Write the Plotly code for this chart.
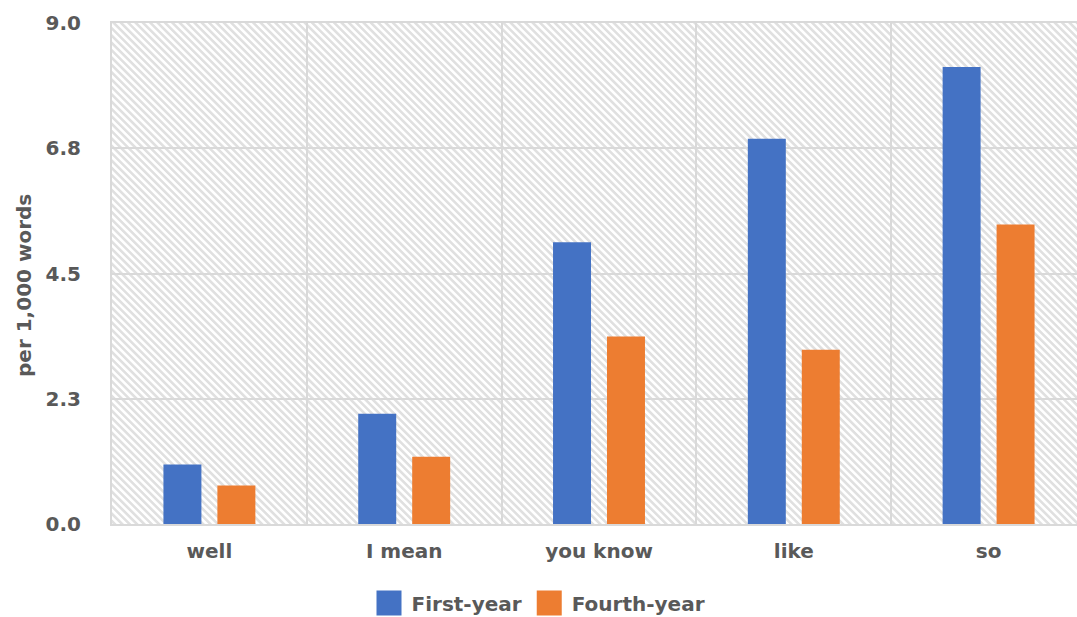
import base64
import plotly.graph_objects as go

# ---- data ----
categories = ["well", "I mean", "you know", "like", "so"]
first_year = [1.07, 1.98, 5.06, 6.92, 8.21]
fourth_year = [0.69, 1.21, 3.37, 3.13, 5.38]
y_tick_vals = [0.0, 2.25, 4.5, 6.75, 9.0]
y_tick_text = ["0.0", "2.3", "4.5", "6.8", "9.0"]
y_title = "per 1,000 words"

W, H = 1077, 617
ML, MR, MT, MB = 112, 0, 23, 93
PW, PH = W - ML - MR, H - MT - MB

TEXT = "#595959"
GRID = "#d9d9d9"
FONT = "DejaVu Sans"

# hatched background for plot area (decoration)
svg = f'''<svg xmlns="http://www.w3.org/2000/svg" width="{PW}" height="{PH}" viewBox="0 0 {PW} {PH}" preserveAspectRatio="none">
<defs><pattern id="h" width="5.2" height="5.2" patternUnits="userSpaceOnUse" patternTransform="rotate(-45)">
<rect x="0" y="0" width="5.2" height="5.2" fill="#ffffff"/>
<rect x="0" y="0" width="2.6" height="5.2" fill="#e0e0e0"/></pattern></defs>
<rect x="0" y="0" width="{PW}" height="{PH}" fill="url(#h)"/></svg>'''
svg_uri = "data:image/svg+xml;base64," + base64.b64encode(svg.encode()).decode()

fig = go.Figure()
fig.add_trace(go.Bar(name="First-year", x=categories, y=first_year,
                     marker=dict(color="#4472C4", line=dict(width=0))))
fig.add_trace(go.Bar(name="Fourth-year", x=categories, y=fourth_year,
                     marker=dict(color="#ED7D31", line=dict(width=0))))

# category width in px is 194.8 -> visible range right end
cat_px = 194.8
x_end = -0.5 + PW / cat_px

fig.update_layout(
    width=W, height=H, autosize=False,
    margin=dict(l=ML, r=MR, t=MT, b=MB, pad=0),
    paper_bgcolor="white", plot_bgcolor="white",
    barmode="group", bargap=0.446, bargroupgap=0.296,
    font=dict(family=FONT, size=20, color=TEXT, weight="bold"),
    images=[dict(source=svg_uri, xref="paper", yref="paper", x=0, y=1,
                 sizex=1, sizey=1, xanchor="left", yanchor="top",
                 sizing="stretch", layer="below")],
    xaxis=dict(
        type="category", range=[-0.5, x_end],
        tickson="boundaries", showgrid=True, gridcolor=GRID, gridwidth=2,
        showline=True, linecolor=GRID, linewidth=2, mirror=True,
        ticks="", ticklabelstandoff=8,
        tickfont=dict(family=FONT, size=20, color=TEXT, weight="bold"),
        fixedrange=True,
    ),
    yaxis=dict(
        range=[0, 9], tickvals=y_tick_vals, ticktext=y_tick_text,
        showgrid=True, gridcolor=GRID, gridwidth=2,
        showline=True, linecolor=GRID, linewidth=2, mirror=False,
        zeroline=False, ticks="", ticklabelstandoff=25,
        tickfont=dict(family=FONT, size=20, color=TEXT, weight="bold"),
        fixedrange=True,
    ),
    annotations=[dict(text=y_title, textangle=-90, showarrow=False,
                      xref="paper", yref="paper",
                      x=(24 - ML) / PW, y=(PH + MT - 286) / PH,
                      xanchor="center", yanchor="middle",
                      font=dict(family=FONT, size=20, color=TEXT, weight="bold"))],
    showlegend=True,
    legend=dict(orientation="h", xref="container", yref="container",
                x=0.5, xanchor="center", y=1 - 603 / H, yanchor="middle",
                itemwidth=35,
                font=dict(family=FONT, size=20, color=TEXT, weight="bold"),
                bgcolor="rgba(0,0,0,0)", itemclick=False, itemdoubleclick=False),
)

post = """
(function(){
  var gd = document.getElementById('{plot_id}');
  function fixLegend(){
    var ps = document.querySelectorAll('g.legendpoints path');
    ps.forEach(function(p){
      p.setAttribute('d','M12.5,12.5H-12.5V-12.5H12.5Z');
    });
  }
  fixLegend();
  if (gd && gd.on) { gd.on('plotly_afterplot', fixLegend); }
  var n = 0;
  var t = setInterval(function(){ fixLegend(); n += 1; if (n > 100) clearInterval(t); }, 20);
})();
"""

fig.write_html("out.html", include_plotlyjs=True, full_html=True,
               config={"displayModeBar": False, "staticPlot": True},
               post_script=post)
